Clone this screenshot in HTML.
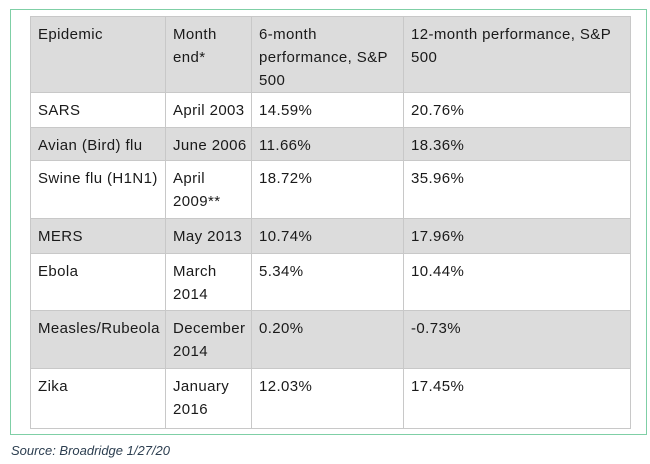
<!DOCTYPE html>
<html><head><meta charset="utf-8"><style>
body{margin:0;width:650px;height:464px;background:#fff;font-family:"Liberation Sans",sans-serif;position:relative;overflow:hidden}
#frame{position:absolute;left:10px;top:9px;width:637px;height:426px;border:1px solid #7fcfa6;box-sizing:border-box}
table{position:absolute;left:30px;top:16px;border-collapse:collapse;width:600px;font-size:15px;letter-spacing:0.4px;color:#1a1a1a;table-layout:fixed}
td{border:1px solid #c8c8c8;vertical-align:top;padding:6px 4px 0 7px;line-height:23px;box-sizing:border-box}
tr.g td{background:#dcdcdc}
#src{position:absolute;left:11px;top:443px;font-size:13px;font-style:italic;color:#2c3e50}
</style></head><body>
<div id="frame"></div>
<table>
<colgroup><col style="width:135px"><col style="width:86px"><col style="width:152px"><col style="width:227px"></colgroup>
<tr class="g" style="height:76px"><td>Epidemic</td><td>Month end*</td><td>6-month performance, S&amp;P 500</td><td>12-month performance, S&amp;P 500</td></tr>
<tr style="height:35px"><td>SARS</td><td>April 2003</td><td>14.59%</td><td>20.76%</td></tr>
<tr class="g" style="height:33px"><td>Avian (Bird) flu</td><td>June 2006</td><td>11.66%</td><td>18.36%</td></tr>
<tr style="height:58px"><td>Swine flu (H1N1)</td><td>April 2009**</td><td>18.72%</td><td>35.96%</td></tr>
<tr class="g" style="height:35px"><td>MERS</td><td>May 2013</td><td>10.74%</td><td>17.96%</td></tr>
<tr style="height:57px"><td>Ebola</td><td>March 2014</td><td>5.34%</td><td>10.44%</td></tr>
<tr class="g" style="height:58px"><td>Measles/Rubeola</td><td>December 2014</td><td>0.20%</td><td>-0.73%</td></tr>
<tr style="height:60px"><td>Zika</td><td>January 2016</td><td>12.03%</td><td>17.45%</td></tr>
</table>
<div id="src">Source: Broadridge 1/27/20</div>
</body></html>
